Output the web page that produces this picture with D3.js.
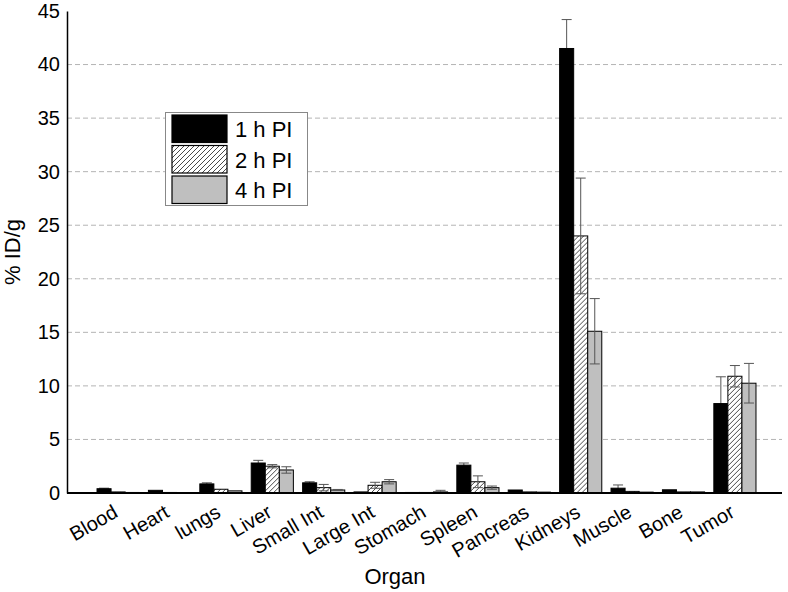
<!DOCTYPE html>
<html>
<head>
<meta charset="utf-8">
<script src="https://cdnjs.cloudflare.com/ajax/libs/d3/7.8.5/d3.min.js"></script>
<style>
  body { margin: 0; background: #fff; }
  svg { display: block; font-family: "Liberation Sans", Arial, sans-serif; }
</style>
</head>
<body>
<svg id="chart" width="788" height="592"></svg>
<script>
// organs on the x axis
const organs = ["Blood", "Heart", "lungs", "Liver", "Small Int", "Large Int", "Stomach",
                "Spleen", "Pancreas", "Kidneys", "Muscle", "Bone", "Tumor"];
const seriesNames = ["1 h PI", "2 h PI", "4 h PI"];

// %ID/g means
const h1 = [0.40, 0.25, 0.85, 2.80, 0.95, 0.10, 0.05, 2.60, 0.28, 41.5, 0.45, 0.30, 8.35];
const h2 = [0.10, 0.05, 0.35, 2.50, 0.50, 0.72, 0.05, 1.05, 0.10, 24.0, 0.15, 0.10, 10.9];
const h4 = [0.05, 0.03, 0.20, 2.15, 0.28, 1.05, 0.10, 0.50, 0.08, 15.1, 0.08, 0.10, 10.25];

// error bars (+/-)
const e1 = [0.05, 0, 0.10, 0.25, 0.10, 0, 0, 0.20, 0, 2.7, 0.30, 0, 2.5];
const e2 = [0, 0, 0, 0.15, 0.30, 0.28, 0, 0.55, 0, 5.4, 0, 0, 1.0];
const e4 = [0, 0, 0, 0.30, 0.05, 0.20, 0.15, 0.15, 0, 3.05, 0, 0, 1.85];

const yTicks = [0, 5, 10, 15, 20, 25, 30, 35, 40, 45];

const values = [h1, h2, h4];
const errors = [e1, e2, e4];
const fills = ["#000", "url(#hatch)", "#bfbfbf"];

const LEFT = 67, RIGHT = 786, TOP = 11, BOTTOM = 493, GRID_END = 782;

let svg = d3.select("#chart");

// diagonal hatch for the 2 h bars
let defs = svg.append("defs");
let pat = defs.append("pattern")
  .attr("id", "hatch")
  .attr("patternUnits", "userSpaceOnUse")
  .attr("width", 5)
  .attr("height", 5);
pat.append("rect").attr("width", 5).attr("height", 5).attr("fill", "#fff");
pat.append("path")
  .attr("d", "M-1,1 l2,-2 M0,5 l5,-5 M4,6 l2,-2")
  .attr("stroke", "#333")
  .attr("stroke-width", 0.9);

let x = d3.scaleBand()
  .domain(organs)
  .range([LEFT, RIGHT])
  .paddingInner(0.18)
  .paddingOuter(0.584);

let xSub = d3.scaleBand()
  .domain(seriesNames)
  .range([0, x.bandwidth()])
  .padding(0);

let y = d3.scaleLinear()
  .domain([0, 45])
  .range([BOTTOM, TOP]);

// gridlines
svg.append("g")
  .selectAll("line")
  .data(yTicks.filter(d => d > 0 && d < 45))
  .enter()
  .append("line")
    .attr("x1", LEFT)
    .attr("x2", GRID_END)
    .attr("y1", d => y(d))
    .attr("y2", d => y(d))
    .attr("stroke", "#b4b4b4")
    .attr("stroke-width", 1)
    .attr("stroke-dasharray", "5,3");

// y axis
let yAxis = svg.append("g")
  .attr("transform", `translate(${LEFT},0)`)
  .call(d3.axisLeft(y).tickValues(yTicks).tickSize(0).tickPadding(7));
yAxis.select(".domain").attr("stroke", "#000").attr("stroke-width", 1.5);
yAxis.selectAll("text")
  .attr("font-size", 20)
  .attr("font-family", "Liberation Sans, Arial, sans-serif")
  .attr("fill", "#000");

let groups = svg.append("g")
  .selectAll("g")
  .data(organs)
  .enter()
  .append("g")
    .attr("transform", d => `translate(${x(d)},0)`);

/**
 * Draw the error bars of one series into the organ groups
 *
 * @param {Number} si
 */
function drawErrors(si) {
  let s = seriesNames[si];
  let cx = xSub(s) + xSub.bandwidth() / 2;
  let hi = (d, i) => y(values[si][organs.indexOf(d)] + errors[si][organs.indexOf(d)]);
  let lo = (d, i) => y(Math.max(0, values[si][organs.indexOf(d)] - errors[si][organs.indexOf(d)]));
  let eg = groups.filter((d, i) => errors[si][i] > 0)
    .append("g")
    .attr("stroke", "#555")
    .attr("stroke-width", 1);
  eg.append("line").attr("x1", cx).attr("x2", cx).attr("y1", hi).attr("y2", lo);
  eg.append("line").attr("x1", cx - 5).attr("x2", cx + 5).attr("y1", hi).attr("y2", hi);
  eg.append("line").attr("x1", cx - 5).attr("x2", cx + 5).attr("y1", lo).attr("y2", lo);
}

// the 1 h error bars sit behind the black bars
drawErrors(0);

// bars
seriesNames.forEach(function(s, si) {
  groups.append("rect")
    .attr("x", xSub(s))
    .attr("y", (d, i) => y(values[si][i]))
    .attr("width", xSub.bandwidth())
    .attr("height", (d, i) => BOTTOM - y(values[si][i]))
    .attr("fill", fills[si])
    .attr("stroke", "#000")
    .attr("stroke-width", 1);
});

drawErrors(1);
drawErrors(2);

// x axis line
svg.append("line")
  .attr("x1", LEFT).attr("x2", GRID_END)
  .attr("y1", BOTTOM).attr("y2", BOTTOM)
  .attr("stroke", "#000")
  .attr("stroke-width", 2);

// rotated organ labels
svg.append("g")
  .selectAll("text")
  .data(organs)
  .enter()
  .append("text")
    .attr("transform", d => `translate(${x(d) + x.bandwidth() / 2 + 1},516) rotate(-30)`)
    .attr("text-anchor", "end")
    .attr("font-size", 20)
    .text(d => d);

// axis titles
svg.append("text")
  .attr("x", 395)
  .attr("y", 584)
  .attr("text-anchor", "middle")
  .attr("font-size", 22)
  .text("Organ");

svg.append("text")
  .attr("transform", "translate(20,252) rotate(-90)")
  .attr("text-anchor", "middle")
  .attr("font-size", 22)
  .text("% ID/g");

// legend
let legend = svg.append("g");
legend.append("rect")
  .attr("x", 165.5).attr("y", 112.5)
  .attr("width", 142).attr("height", 93)
  .attr("fill", "#fff")
  .attr("stroke", "#888")
  .attr("stroke-width", 1);

let rowY = [115, 145.5, 176];
seriesNames.forEach(function(s, si) {
  legend.append("rect")
    .attr("x", 172).attr("y", rowY[si])
    .attr("width", 55).attr("height", 27.5)
    .attr("fill", fills[si])
    .attr("stroke", "#000")
    .attr("stroke-width", 1.2);
  legend.append("text")
    .attr("x", 235)
    .attr("y", rowY[si] + 22)
    .attr("font-size", 22)
    .text(s);
});
</script>
</body>
</html>
